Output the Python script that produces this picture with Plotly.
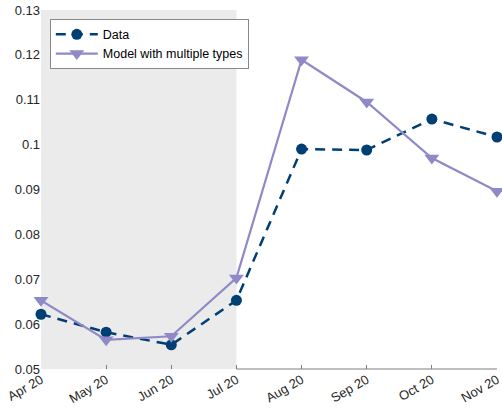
import plotly.graph_objects as go

months = ["Apr 20", "May 20", "Jun 20", "Jul 20", "Aug 20", "Sep 20", "Oct 20", "Nov 20"]
data_vals = [0.0622, 0.0582, 0.0554, 0.0653, 0.0990, 0.0988, 0.1057, 0.1017]
model_vals = [0.0653, 0.0565, 0.0573, 0.0703, 0.1189, 0.1095, 0.0970, 0.0896]
shade_start = "Apr 20"
shade_end = "Jul 20"
yticks = [0.05, 0.06, 0.07, 0.08, 0.09, 0.1, 0.11, 0.12, 0.13]
ytick_text = ["0.05", "0.06", "0.07", "0.08", "0.09", "0.1", "0.11", "0.12", "0.13"]

navy = "#003f73"
lav = "#8f8ac7"

fig = go.Figure()
fig.add_trace(go.Scatter(
    x=months, y=data_vals, name="Data", mode="lines+markers",
    line=dict(color=navy, width=2.5, dash="10px,7px"),
    marker=dict(symbol="circle", size=11, color=navy),
    cliponaxis=False,
))
fig.add_trace(go.Scatter(
    x=months, y=model_vals, name="Model with multiple types", mode="lines+markers",
    line=dict(color=lav, width=2.2),
    marker=dict(symbol="triangle-down", size=13, color=lav),
    cliponaxis=False,
))

fig.add_shape(type="rect", xref="x", yref="paper", x0=shade_start, x1=shade_end,
              y0=0, y1=1, fillcolor="#ebebeb", line=dict(width=0), layer="below")
fig.add_shape(type="line", xref="x", yref="paper", x0=shade_end, x1=months[-1],
              y0=0, y1=0, line=dict(color="#7f7f7f", width=1), layer="below")

fig.update_layout(
    width=502, height=413,
    margin=dict(l=41, r=5, t=10, b=44),
    plot_bgcolor="white", paper_bgcolor="white",
    font=dict(family="Liberation Sans, Arial, sans-serif", size=13, color="#262626"),
    showlegend=True,
    legend=dict(x=0.02, y=0.975, xanchor="left", yanchor="top",
                bgcolor="white", bordercolor="#555555", borderwidth=0.7,
                font=dict(size=12.5, color="#000000"),
                tracegroupgap=0, itemwidth=42),
)
fig.update_xaxes(
    type="category", range=[0, len(months) - 1], showgrid=False, zeroline=False,
    showline=False, ticks="inside", ticklen=4, tickcolor="#7f7f7f",
    tickangle=-30, tickfont=dict(size=13, color="#262626"), automargin=False,
)
fig.update_yaxes(
    range=[0.05, 0.13], tickvals=yticks, ticktext=ytick_text,
    showgrid=False, zeroline=False, showline=False, ticks="",
    tickfont=dict(size=13, color="#262626"), automargin=False,
)

fig.write_html(
    "out.html",
    config={"displayModeBar": False},
    post_script="document.body.style.margin='0';document.body.style.overflow='hidden';",
)
